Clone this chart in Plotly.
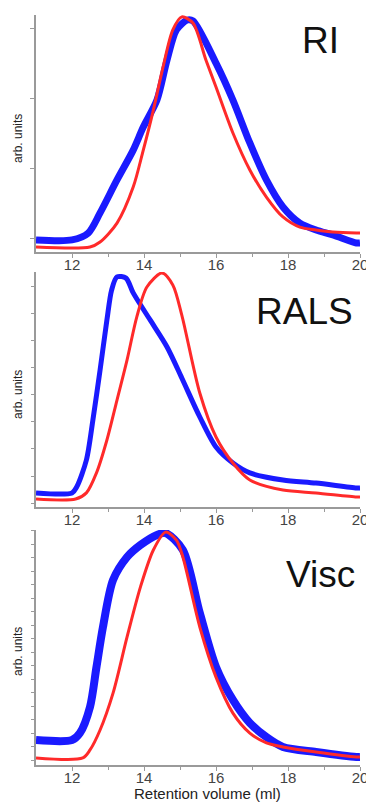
import plotly.graph_objects as go

# ---- data ----
ri_blue_x = [11.0, 12.0, 12.45, 12.78, 13.25, 13.7, 13.98, 14.36, 14.64, 14.9, 15.2, 15.36, 16.0, 16.47, 16.94, 17.4, 17.86, 18.33, 18.78, 19.25, 19.9, 20.0]
ri_blue_y = [5.1, 5.1, 8.0, 16.5, 30.4, 43.0, 52.7, 64.1, 81.0, 93.7, 97.9, 97.5, 79.7, 64.1, 46.0, 30.4, 19.0, 12.2, 9.3, 7.2, 3.8, 3.8]
ri_red_x = [11.0, 12.5, 12.78, 13.25, 13.7, 13.98, 14.26, 14.53, 14.8, 15.05, 15.36, 15.72, 16.0, 16.47, 16.94, 17.4, 17.86, 18.33, 18.78, 19.25, 19.9, 20.0]
ri_red_y = [2.1, 2.1, 4.2, 12.2, 27.4, 43.0, 59.9, 78.1, 93.7, 99.2, 96.6, 81.0, 69.6, 50.2, 34.6, 23.2, 14.8, 10.5, 9.3, 8.4, 8.0, 8.0]

rals_blue_x = [11.0, 12.0, 12.13, 12.4, 12.58, 12.78, 12.97, 13.1, 13.25, 13.5, 13.7, 14.17, 14.64, 15.05, 15.55, 16.0, 16.47, 16.94, 17.86, 18.78, 19.9, 20.0]
rals_blue_y = [6.0, 6.0, 8.5, 20.0, 37.0, 58.3, 79.6, 92.3, 97.9, 97.4, 91.1, 79.6, 68.1, 54.9, 38.3, 25.5, 18.7, 14.5, 11.5, 10.2, 8.1, 8.1]
rals_red_x = [11.0, 12.1, 12.4, 12.68, 12.97, 13.25, 13.53, 13.8, 14.08, 14.5, 14.8, 15.05, 15.55, 16.0, 16.47, 16.94, 17.86, 18.78, 19.9, 20.0]
rals_red_y = [3.4, 3.4, 6.0, 14.5, 28.5, 45.5, 62.6, 80.9, 93.6, 99.6, 94.5, 81.7, 48.5, 29.8, 18.7, 11.5, 7.2, 6.0, 4.3, 4.3]

visc_blue_x = [11.0, 12.0, 12.22, 12.5, 12.68, 12.86, 13.14, 13.53, 13.9, 14.36, 14.6, 15.08, 15.55, 16.0, 16.47, 16.94, 17.4, 17.86, 18.78, 19.9, 20.0]
visc_blue_y = [10.6, 10.6, 13.6, 24.7, 41.7, 58.7, 78.7, 88.5, 93.6, 97.9, 98.7, 91.5, 64.7, 41.7, 27.7, 17.9, 11.9, 7.7, 5.5, 3.4, 3.4]
visc_red_x = [11.0, 12.3, 12.5, 12.78, 13.14, 13.53, 13.9, 14.26, 14.6, 14.9, 15.08, 15.55, 16.0, 16.47, 16.94, 17.4, 17.86, 18.78, 19.9, 20.0]
visc_red_y = [3.0, 3.0, 6.4, 14.9, 30.6, 54.5, 75.7, 91.5, 99.1, 95.7, 88.5, 58.7, 37.4, 22.1, 13.6, 9.4, 7.7, 5.5, 3.4, 3.4]

panel_labels = ["RI", "RALS", "Visc"]
x_tickvals = [12, 14, 16, 18, 20]
x_title = "Retention volume (ml)"
y_title = "arb. units"

BLUE = "#1a1aff"
RED = "#ff2a2a"

fig = go.Figure()

panels = [
    (ri_blue_x, ri_blue_y, ri_red_x, ri_red_y, "x", "y", 7, 3),
    (rals_blue_x, rals_blue_y, rals_red_x, rals_red_y, "x2", "y2", 5, 3),
    (visc_blue_x, visc_blue_y, visc_red_x, visc_red_y, "x3", "y3", 8, 3),
]
for bx, by, rx, ry, xa, ya, bw, rw in panels:
    fig.add_trace(go.Scatter(x=bx, y=by, mode="lines", xaxis=xa, yaxis=ya,
                             line=dict(color=BLUE, width=bw, shape="spline", smoothing=0.8),
                             showlegend=False))
    fig.add_trace(go.Scatter(x=rx, y=ry, mode="lines", xaxis=xa, yaxis=ya,
                             line=dict(color=RED, width=rw, shape="spline", smoothing=0.8),
                             showlegend=False))

AX = "#9a9a9a"
def xaxis(anchor):
    return dict(range=[11, 20], anchor=anchor, tickvals=x_tickvals, showline=True,
                linecolor=AX, linewidth=1.5, ticks="outside", ticklen=4, tickcolor=AX,
                tickwidth=1, showgrid=False, zeroline=False, automargin=False,
                ticklabeloverflow="allow", ticklabelstandoff=-6,
                tickfont=dict(family="Liberation Sans, Arial", size=15, color="#444"),
                minor=dict(tickvals=[13, 15, 17, 19], ticks="outside", ticklen=3, tickcolor=AX),
                fixedrange=True)

def yaxis(anchor, domain, tick0, dtick, ticklen):
    return dict(range=[0, 100], anchor=anchor, domain=domain, showline=True,
                linecolor=AX, linewidth=1.5, ticks="outside", ticklen=ticklen, tickcolor=AX,
                tick0=tick0, dtick=dtick, showticklabels=False, showgrid=False,
                zeroline=False, automargin=False, fixedrange=True)

d1 = [(765 - 252) / 750, 1.0]
d2 = [(765 - 507) / 750, (765 - 272) / 750]
d3 = [0.0, (765 - 530) / 750]

fig.update_layout(
    width=366, height=803,
    margin=dict(l=36, r=6, t=15, b=38),
    paper_bgcolor="white", plot_bgcolor="white",
    font=dict(family="Liberation Sans, Arial", color="#222"),
    xaxis=xaxis("y"), xaxis2=xaxis("y2"), xaxis3=xaxis("y3"),
    yaxis=yaxis("x", d1, 5.8, 29.5, 4),
    yaxis2=yaxis("x2", d2, 1.6, 11.55, 3),
    yaxis3=yaxis("x3", d3, 2.1, 5.74, 3),
)

def px_x(p):
    return (p - 36) / 324

def px_y(p):
    return (765 - p) / 750

annos = []
for text, lx, cy in zip(panel_labels, [301, 255, 285], [41, 311, 574]):
    annos.append(dict(text=text, xref="paper", yref="paper", x=px_x(lx) - 0.004, y=px_y(cy),
                      xanchor="left", yanchor="middle", showarrow=False,
                      font=dict(family="Liberation Sans, Arial", size=37, color="#111")))
for cy in [139, 395, 652]:
    annos.append(dict(text=y_title, xref="paper", yref="paper", x=px_x(18), y=px_y(cy),
                      xanchor="center", yanchor="middle", textangle=-90, showarrow=False,
                      font=dict(family="Liberation Sans, Arial", size=12, color="#222")))
annos.append(dict(text=x_title, xref="paper", yref="paper", x=px_x(207), y=px_y(793),
                  xanchor="center", yanchor="middle", showarrow=False,
                  font=dict(family="Liberation Sans, Arial", size=15, color="#222")))
fig.update_layout(annotations=annos)

fig.write_html("out.html", config={"displayModeBar": False},
               post_script="document.body.style.margin='0';document.body.style.overflow='hidden';")
